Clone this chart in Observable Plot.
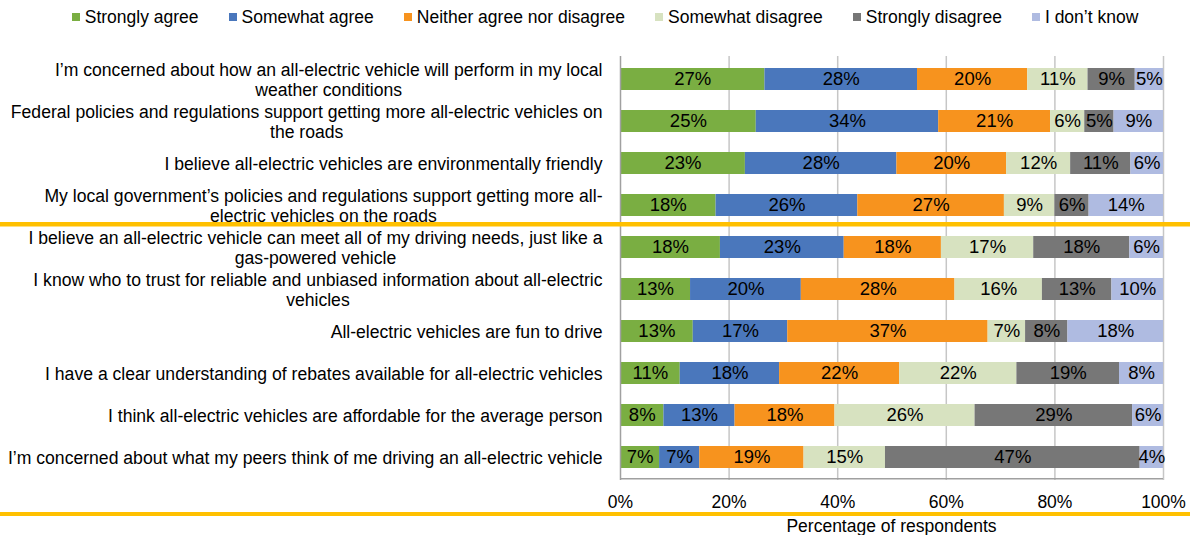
<!DOCTYPE html>
<html><head><meta charset="utf-8">
<script src="https://cdn.jsdelivr.net/npm/d3@7"></script>
<script src="https://cdn.jsdelivr.net/npm/@observablehq/plot@0.6"></script>
<style>
body{margin:0;background:#fff;font-family:"Liberation Sans",Arial,sans-serif;color:#000}
#legend{height:34px;display:flex;justify-content:center;align-items:center;padding-left:20px;font-size:17.5px;white-space:nowrap}
.item{display:flex;align-items:center;margin:0 15px}
.sw{width:8px;height:8px;margin-right:5px}
#chart svg{display:block}
#sep{height:4px;background:#ffc000}
#xtitle{margin-left:620px;width:543px;text-align:center;font-size:17.5px;line-height:20px}
</style></head><body>
<div id="legend"></div><div id="chart"></div><div id="sep"></div><div id="xtitle">Percentage of respondents</div>
<script>
const categories = [
  "I’m concerned about how an all-electric vehicle will perform in my local\nweather conditions",
  "Federal policies and regulations support getting more all-electric vehicles on\nthe roads",
  "I believe all-electric vehicles are environmentally friendly",
  "My local government’s policies and regulations support getting more all-\nelectric vehicles on the roads",
  "I believe an all-electric vehicle can meet all of my driving needs, just like a\ngas-powered vehicle",
  "I know who to trust for reliable and unbiased information about all-electric\nvehicles",
  "All-electric vehicles are fun to drive",
  "I have a clear understanding of rebates available for all-electric vehicles",
  "I think all-electric vehicles are affordable for the average person",
  "I’m concerned about what my peers think of me driving an all-electric vehicle"
];
const seriesNames = ["Strongly agree","Somewhat agree","Neither agree nor disagree","Somewhat disagree","Strongly disagree","I don’t know"];
const stronglyAgree      = [26.6, 25.0, 23.0, 17.6, 18.4, 12.9, 13.4, 11.0,  8.0,  7.2];
const somewhatAgree      = [28.1, 33.6, 27.9, 26.1, 22.8, 20.4, 17.4, 18.3, 13.1,  7.4];
const neither            = [20.3, 20.6, 20.2, 27.0, 17.9, 28.3, 36.9, 22.1, 18.4, 19.2];
const somewhatDisagree   = [11.1,  6.3, 11.8,  9.3, 17.0, 16.1,  6.9, 21.6, 25.8, 15.0];
const stronglyDisagree   = [ 8.7,  5.4, 11.1,  6.3, 17.7, 12.8,  7.8, 18.9, 29.0, 46.9];
const dontKnow           = [ 5.2,  9.1,  6.0, 13.7,  6.2,  9.5, 17.6,  8.1,  5.7,  4.3];
const seriesValues = [stronglyAgree, somewhatAgree, neither, somewhatDisagree, stronglyDisagree, dontKnow];
const colors = ["#7aae42","#4a77bc","#f7931e","#d7e2c0","#777777","#afbbe1"];
const xTicks = [0, 20, 40, 60, 80, 100];

// legend
const leg = document.getElementById("legend");
seriesNames.forEach((s, i) => {
  const it = document.createElement("div"); it.className = "item";
  const sw = document.createElement("div"); sw.className = "sw"; sw.style.background = colors[i];
  const t = document.createElement("span"); t.textContent = s;
  it.appendChild(sw); it.appendChild(t); leg.appendChild(it);
});

const W = 1190, H = 478, mL = 620, mR = 27, mT = 22, mB = 32;
const n = categories.length;
const step = (H - mT - mB) / n;
const labelSize = 17.6;

const rows = [];
categories.forEach((c, i) => seriesNames.forEach((s, j) => rows.push({cat: c, resp: s, value: seriesValues[j][i]})));

const ctx = document.createElement("canvas").getContext("2d");
ctx.font = labelSize + "px 'Liberation Sans', Arial, sans-serif";
const labelMarks = categories.map(c => {
  const lines = c.split("\n");
  const w = Math.max(...lines.map(l => ctx.measureText(l).width));
  return Plot.text([c], {y: d => d, frameAnchor: "left", text: d => d, textAnchor: "middle",
    dx: -(18 + w / 2), lineHeight: 20 / labelSize, fontSize: labelSize, fill: "#000"});
});

const plot = Plot.plot({
  width: W, height: H,
  marginLeft: mL, marginRight: mR, marginTop: mT, marginBottom: mB,
  style: {fontFamily: "'Liberation Sans', Arial, sans-serif", fontSize: "17.5px", color: "#000", background: "#fff", overflow: "visible"},
  x: {domain: [0, 100], ticks: xTicks, tickFormat: d => d + "%", tickSize: 0, tickPadding: 15, label: null},
  y: {domain: categories, paddingInner: 0.47, paddingOuter: 0.235, axis: null},
  color: {domain: seriesNames, range: colors},
  marks: [
    Plot.ruleX(xTicks.filter(d => d > 0), {stroke: "#c6c6c6", strokeWidth: 1.5}),
    Plot.barX(rows, Plot.stackX({x: "value", y: "cat", fill: "resp"})),
    Plot.text(rows, Plot.stackX({x: "value", y: "cat", z: "resp", text: d => Math.round(d.value) + "%", fontSize: 18.5, fill: "#000"})),
    Plot.ruleX([0], {stroke: "#a0a0a0", strokeWidth: 1.5}),
    Plot.ruleY([categories[n - 1]], {y: d => d, dy: step / 2, stroke: "#a0a0a0", strokeWidth: 1.5}),
    ...labelMarks,
    Plot.ruleY([categories[4]], {y: d => d, dy: -step / 2 - 2, stroke: "#ffc000", strokeWidth: 4.5, insetLeft: -mL, insetRight: -mR})
  ]
});
document.getElementById("chart").appendChild(plot);
</script>
</body></html>
